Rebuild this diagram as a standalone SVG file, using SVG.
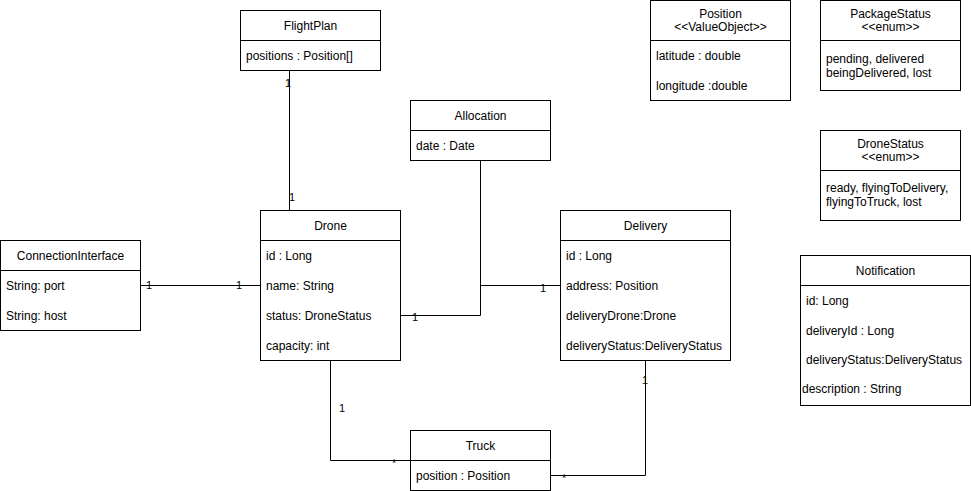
<svg xmlns="http://www.w3.org/2000/svg" width="971" height="491" viewBox="0 0 971 491">
<style>
.box{fill:#fff;stroke:#000;stroke-width:1}
.ln{fill:none;stroke:#000;stroke-width:1}
text{font-family:"Liberation Sans",Arial,Helvetica,sans-serif;font-size:12px;fill:#000}
.c{text-anchor:middle}
.st{font-size:12px}
.m{font-size:11px}
</style>
<rect width="971" height="491" fill="#fff"/>
<g id="connectors">
<path class="ln" d="M289.5 70 V210"/>
<path class="ln" d="M140 285.5 H260"/>
<path class="ln" d="M400 315.5 H480.5 V160"/>
<path class="ln" d="M480.5 285.5 H560"/>
<path class="ln" d="M330.5 360 V460.5 H410"/>
<path class="ln" d="M645.5 360 V475.5 H550"/>
<text x="285" y="87" class="m">1</text>
<text x="289" y="201" class="m">1</text>
<text x="146" y="289" class="m">1</text>
<text x="236" y="289" class="m">1</text>
<text x="412" y="321" class="m">1</text>
<text x="540" y="292" class="m">1</text>
<text x="339" y="412" class="m">1</text>
<text x="392" y="467" class="m">*</text>
<text x="642" y="384" class="m">1</text>
<text x="562" y="482" class="m">*</text>
</g>
<g id="FlightPlan">
<rect class="box" x="240.5" y="10.5" width="140" height="60"/>
<path class="ln" d="M240.5 40.5 H380.5"/>
<text x="310.5" y="30" class="c">FlightPlan</text>
<text x="246" y="60">positions : Position[]</text>
</g>
<g id="Allocation">
<rect class="box" x="410.5" y="100.5" width="140" height="60"/>
<path class="ln" d="M410.5 130.5 H550.5"/>
<text x="480.5" y="120" class="c">Allocation</text>
<text x="416" y="150">date : Date</text>
</g>
<g id="ConnectionInterface">
<rect class="box" x="0.5" y="240.5" width="140" height="90"/>
<path class="ln" d="M0.5 270.5 H140.5"/>
<text x="70.5" y="260" class="c">ConnectionInterface</text>
<text x="6" y="290">String: port</text>
<text x="6" y="320">String: host</text>
</g>
<g id="Drone">
<rect class="box" x="260.5" y="210.5" width="140" height="150"/>
<path class="ln" d="M260.5 240.5 H400.5"/>
<text x="330.5" y="230" class="c">Drone</text>
<text x="266" y="260">id : Long</text>
<text x="266" y="290">name: String</text>
<text x="266" y="320">status: DroneStatus</text>
<text x="266" y="350">capacity: int</text>
</g>
<g id="Delivery">
<rect class="box" x="560.5" y="210.5" width="170" height="150"/>
<path class="ln" d="M560.5 240.5 H730.5"/>
<text x="645.5" y="230" class="c">Delivery</text>
<text x="566" y="260">id : Long</text>
<text x="566" y="290">address: Position</text>
<text x="566" y="320">deliveryDrone:Drone</text>
<text x="566" y="350">deliveryStatus:DeliveryStatus</text>
</g>
<g id="Truck">
<rect class="box" x="410.5" y="430.5" width="140" height="60"/>
<path class="ln" d="M410.5 460.5 H550.5"/>
<text x="480.5" y="450" class="c">Truck</text>
<text x="416" y="480">position : Position</text>
</g>
<g id="Position">
<rect class="box" x="650.5" y="0.5" width="140" height="100"/>
<path class="ln" d="M650.5 40.5 H790.5"/>
<text x="720.5" y="18" class="c">Position</text>
<text x="720.5" y="31" class="c st">&lt;&lt;ValueObject&gt;&gt;</text>
<text x="656" y="60">latitude : double</text>
<text x="656" y="90">longitude :double</text>
</g>
<g id="PackageStatus">
<rect class="box" x="820.5" y="0.5" width="140" height="90"/>
<path class="ln" d="M820.5 40.5 H960.5"/>
<text x="890.5" y="18" class="c">PackageStatus</text>
<text x="890.5" y="31" class="c st">&lt;&lt;enum&gt;&gt;</text>
<text x="826" y="63">pending, delivered</text>
<text x="826" y="77">beingDelivered, lost</text>
</g>
<g id="DroneStatus">
<rect class="box" x="820.5" y="130.5" width="140" height="90"/>
<path class="ln" d="M820.5 170.5 H960.5"/>
<text x="890.5" y="148" class="c">DroneStatus</text>
<text x="890.5" y="161" class="c st">&lt;&lt;enum&gt;&gt;</text>
<text x="826" y="192">ready, flyingToDelivery,</text>
<text x="826" y="206">flyingToTruck, lost</text>
</g>
<g id="Notification">
<rect class="box" x="800.5" y="255.5" width="170" height="150"/>
<path class="ln" d="M800.5 285.5 H970.5"/>
<text x="885.5" y="275" class="c">Notification</text>
<text x="806" y="305">id: Long</text>
<text x="806" y="335">deliveryId : Long</text>
<text x="806" y="364">deliveryStatus:DeliveryStatus</text>
<text x="802" y="393">description : String</text>
</g>
</svg>
